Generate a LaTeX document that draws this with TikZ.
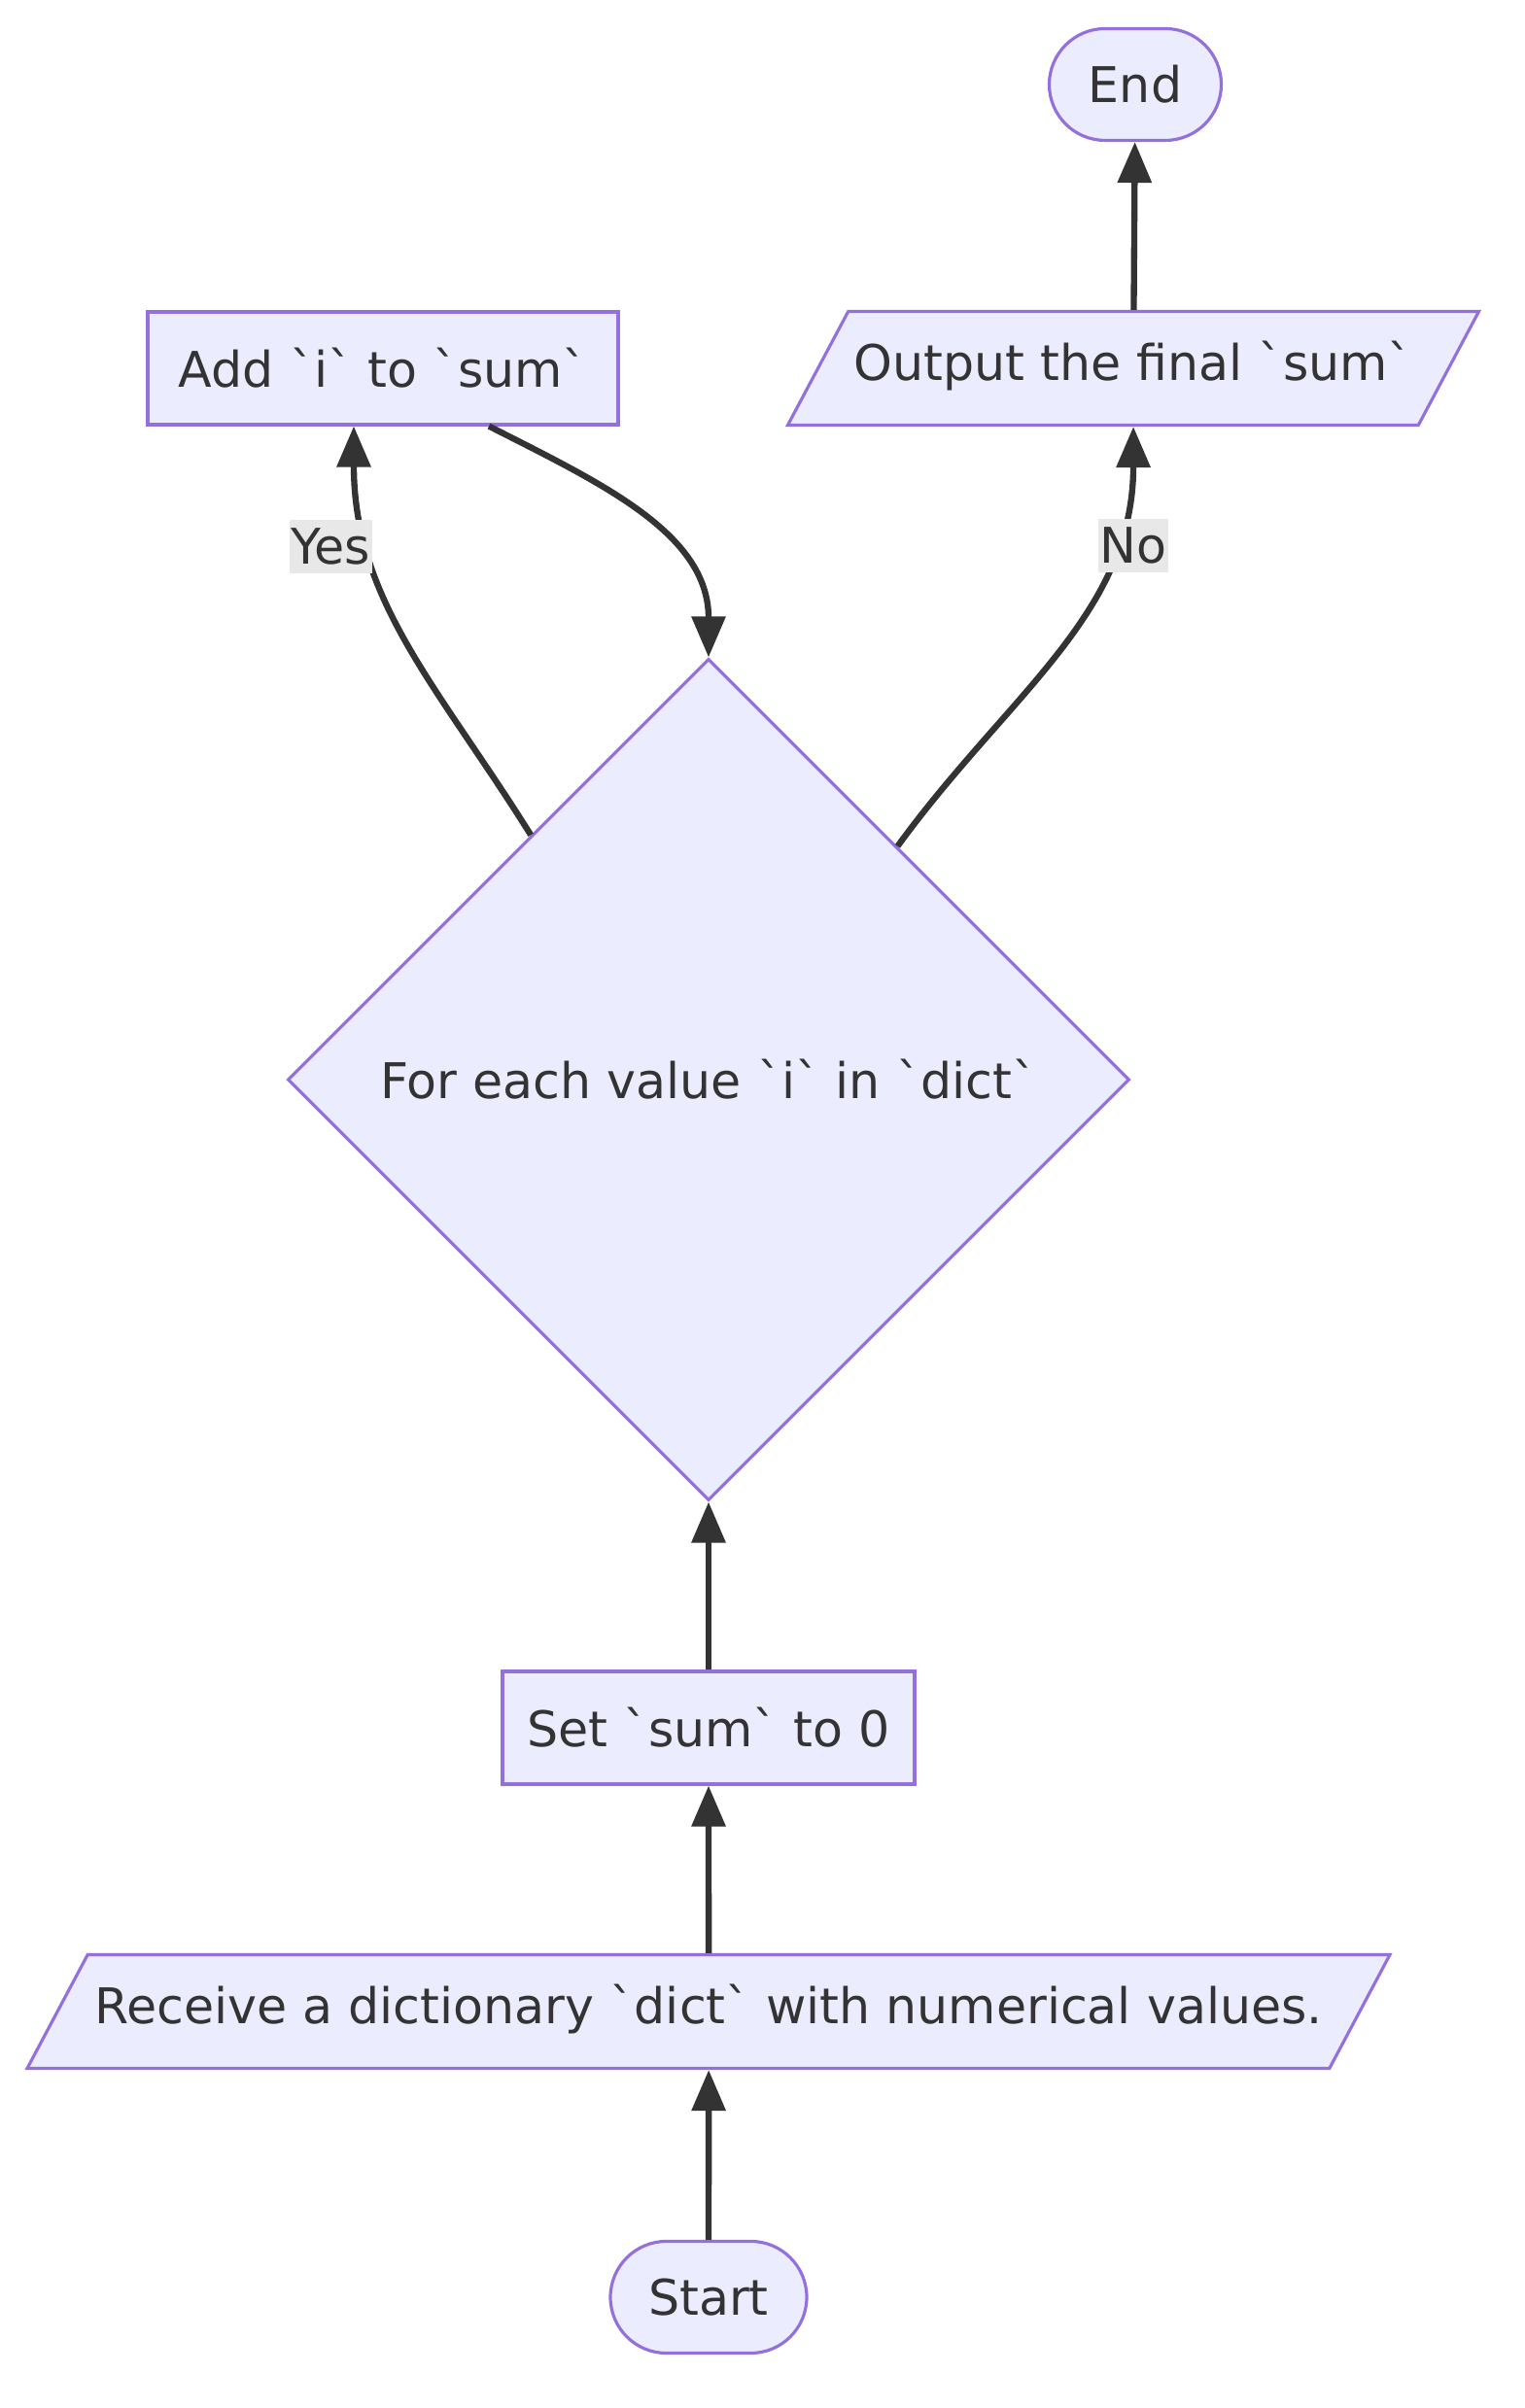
\documentclass[tikz,border=0pt]{standalone}
\usepackage{fontspec}
\newfontfamily\mmfont{DejaVu Sans}
\usetikzlibrary{positioning, arrows.meta, shapes.geometric, shapes.misc}
\definecolor{nodefill}{HTML}{ECECFF}
\definecolor{nodeline}{HTML}{9370DB}
\definecolor{edgeline}{HTML}{333333}
\definecolor{labelbg}{HTML}{E8E8E8}

\begin{document}
\begin{tikzpicture}[
  font=\mmfont\fontsize{14.4pt}{17pt}\selectfont, text=edgeline,
  base/.style={draw=nodeline, fill=nodefill, line width=0.9pt, inner sep=0pt},
  proc/.style={base, rectangle, minimum height=1.16cm},
  term/.style={base, rounded rectangle, minimum height=1.15cm},
  io/.style={base, trapezium, trapezium left angle=62, trapezium right angle=118,
             trapezium stretches body, text height=0.38cm, text depth=0.12cm,
             inner ysep=0.335cm},
  cond/.style={base, diamond, aspect=1, minimum width=8.66cm, minimum height=8.66cm},
  flow/.style={draw=edgeline, line width=1.8pt, -{Triangle[length=0.42cm, width=0.34cm]}},
  lbl/.style={fill=labelbg, inner xsep=0.5pt, inner ysep=2.5pt}
]
  \useasboundingbox (0,0) rectangle (15.68,24.78);

  %% ── nodes ──
  \node[term, minimum width=2.02cm]  (start) at (7.29,1.14)   {Start};
  \node[io, minimum width=14.02cm]   (recv)  at (7.29,4.08)   {Receive a dictionary `dict` with numerical values.};
  \node[proc, minimum width=4.24cm]  (init)  at (7.29,7.00)   {Set `sum` to 0};
  \node[cond]                        (loop)  at (7.29,13.67)  {For each value `i` in `dict`};
  \node[proc, minimum width=4.84cm]  (add)   at (3.94,20.99)  {Add `i` to `sum`};
  \node[io, minimum width=7.11cm]    (out)   at (11.66,20.99) {Output the final `sum`};
  \node[term, minimum width=1.77cm]  (stop)  at (11.68,23.91) {End};

  %% ── straight connectors ──
  \draw[flow] (start) -- (recv);
  \draw[flow] (recv)  -- (init);
  \draw[flow] (init)  -- (loop.south);
  \draw[flow] (out)   -- (stop);

  %% ── loop body and exit ──
  \draw[flow] (loop.126) to[out=122, in=-90]
    node[lbl, pos=0.74, xshift=-4mm] {Yes} ([xshift=-3mm]add.south);
  \draw[flow] ([xshift=10.9mm]add.south) to[out=-27, in=90] (loop.north);
  \draw[flow] (loop.51) to[out=54, in=-90]
    node[lbl, pos=0.76, xshift=2mm] {No} (out.south);
\end{tikzpicture}
\end{document}
